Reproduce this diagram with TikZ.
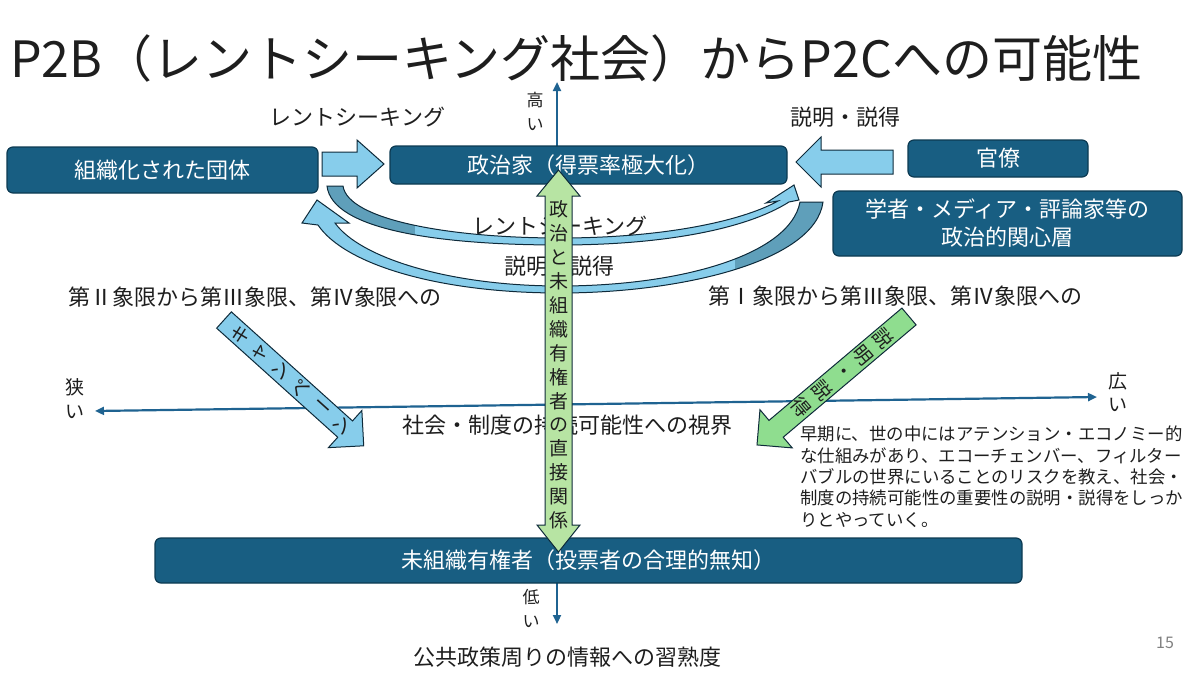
\documentclass[tikz,border=0pt]{standalone}
\usepackage{fontspec}
\setmainfont{Noto Sans CJK JP}
\usetikzlibrary{arrows.meta,calc}

\definecolor{boxblue}{HTML}{185E82}
\definecolor{boxline}{HTML}{0C3A52}
\definecolor{axisblue}{HTML}{1F6391}
\definecolor{lblue}{HTML}{87CDEB}
\definecolor{dkblue}{HTML}{5F9FBA}
\definecolor{lgreen}{HTML}{B7E4A3}
\definecolor{mgreen}{HTML}{8FDD8F}
\definecolor{edgecol}{HTML}{0E2A3A}
\definecolor{txt}{HTML}{1E1E1E}

% curved ribbons
\def\curvea{(327,186) -- (343,186) .. controls (348,220) and (450,238) .. (560,238)
  .. controls (660,238) and (740,222) .. (778,201) -- (766,203) -- (794,185) -- (799,200)
  -- (789,202) .. controls (745,230) and (660,245) .. (560,245)
  .. controls (440,245) and (332,230) .. (327,186) -- cycle}
\def\curveb{(800,202) -- (823,202) .. controls (815,262) and (680,293) .. (560,293)
  .. controls (440,293) and (345,265) .. (318,225) -- (302,223) -- (317,200) -- (349,223)
  -- (335,223) .. controls (360,258) and (450,286) .. (560,286)
  .. controls (680,286) and (790,255) .. (800,202) -- cycle}

\begin{document}
\begin{tikzpicture}[x=1pt,y=-1pt,
  box/.style={draw=boxline,fill=boxblue,rounded corners=6pt,line width=1.2pt,
    text=white,font=\fontsize{22}{28}\selectfont,inner sep=0pt,align=center},
  lbl/.style={text=txt,font=\fontsize{22}{26}\selectfont,inner sep=0pt},
  small/.style={text=txt,font=\fontsize{18}{23}\selectfont,inner sep=0pt,align=center},
  axis/.style={draw=axisblue,line width=2.2pt,{Triangle[length=9pt,width=8pt]}-{Triangle[length=9pt,width=8pt]}},
  edge/.style={draw=edgecol,line width=1pt,line join=miter},
  chr/.style={text=txt,font=\fontsize{19}{23}\selectfont,inner sep=0pt}]
\useasboundingbox (0,0) rectangle (1200,675);

% title
\node[anchor=west,text=txt,font=\fontsize{50}{56}\selectfont,inner sep=0pt] (title) at (10,58)
  {P2B（レントシーキング社会）からP2Cへの可能性};

% axes
\coordinate (vtop) at (557,82);
\coordinate (vbot) at (557,624);
\coordinate (hleft) at (95,411);
\coordinate (hright) at (1097,397);
\draw[axis] (vbot) -- (vtop);
\draw[axis] (hleft) -- (hright);
\node[small,font=\fontsize{17}{24}\selectfont] (high) at (535,111) {高\\い};
\node[small,font=\fontsize{17}{24}\selectfont] (low) at (531,608) {低\\い};
\node[small,font=\fontsize{19}{24}\selectfont] (narrow) at (75,399) {狭\\い};
\node[small,font=\fontsize{19}{23}\selectfont] (wide) at (1118,392) {広\\い};

% boxes
\node[box,minimum width=311pt,minimum height=46pt] (grp) at (162.5,170) {組織化された団体};
\node[box,minimum width=397pt,minimum height=38pt] (pol) at (588.5,165) {政治家（得票率極大化）};
\node[box,minimum width=180pt,minimum height=37pt] (bur) at (998,158.5) {官僚};
\node[box,minimum width=349pt,minimum height=65pt] (aca) at (1007.5,223.5)
  {学者・メディア・評論家等の\\政治的関心層};
\node[box,minimum width=867pt,minimum height=45pt] (voter) at (588.5,560.5)
  {未組織有権者（投票者の合理的無知）};

% curved arrows
\fill[lblue] \curvea;
\begin{scope}
  \clip \curvea;
  \fill[dkblue] (300,170) rectangle (415,260);
\end{scope}
\draw[edge] \curvea;
\fill[lblue] \curveb;
\begin{scope}
  \clip \curveb;
  \fill[dkblue] (735,190) rectangle (830,300);
\end{scope}
\draw[edge] \curveb;

% straight block arrows
\draw[edge,fill=lblue] (322,152) -- (357,152) -- (357,140) -- (384,164) -- (357,188)
  -- (357,176) -- (322,176) -- cycle;
\draw[edge,fill=lblue] (893,150) -- (821,150) -- (821,137) -- (796,162) -- (821,187)
  -- (821,174) -- (893,174) -- cycle;

% labels
\node[lbl] (rs1) at (357.5,117) {レントシーキング};
\node[lbl] (ex1) at (845,117) {説明・説得};
\node[lbl] (rs2) at (560,226) {レントシーキング};
\node[lbl] (ex2) at (559,266) {説明・説得};
\node[lbl] (q2) at (255,297) {第Ⅱ象限から第Ⅲ象限、第Ⅳ象限への};
\node[lbl] (q1) at (895,296) {第Ⅰ象限から第Ⅲ象限、第Ⅳ象限への};
\node[lbl] (view) at (567,425) {社会・制度の持続可能性への視界};
\node[lbl] (skill) at (567,657) {公共政策周りの情報への習熟度};
\node[anchor=north west,text=txt,font=\fontsize{17.4}{21.3}\selectfont,inner sep=0pt,align=left]
  (note) at (800,426)
  {早期に、世の中にはアテンション・エコノミー的\\
   な仕組みがあり、エコーチェンバー、フィルター\\
   バブルの世界にいることのリスクを教え、社会・\\
   制度の持続可能性の重要性の説明・説得をしっか\\
   りとやっていく。};
\node[text=gray,font=\fontsize{16}{18}\selectfont,inner sep=0pt] (page) at (1165,643) {15};

% direct relation (vertical double arrow)
\draw[edge,fill=lgreen] (558.5,170) -- (580,196) -- (572,196) -- (572,525) -- (580,525)
  -- (558.5,552) -- (537,525) -- (545,525) -- (545,196) -- (537,196) -- cycle;
\node[chr,align=center,font=\fontsize{19}{23.9}\selectfont] (direct) at (558.5,365)
  {政\\治\\と\\未\\組\\織\\有\\権\\者\\の\\直\\接\\関\\係};

% campaign arrow
\begin{scope}[shift={(224,320)},rotate=-42]
  \draw[edge,fill=lblue] (0,-11) -- (163,-11) -- (163,-25) -- (188,0) -- (163,25)
    -- (163,11) -- (0,11) -- cycle;
  \foreach \c/\r/\p in {キ/48/22,ャ/48/49,ン/48/76,ペ/48/103,ー/-42/131,ン/48/158}
    \node[chr,rotate=\r] at (\p,0) {\c};
\end{scope}

% explanation arrow
\begin{scope}[shift={(909,316.5)},rotate=-139.8]
  \draw[edge,fill=mgreen] (0,-11) -- (174,-11) -- (174,-25) -- (199,0) -- (174,25)
    -- (174,11) -- (0,11) -- cycle;
  \foreach \c/\p in {説/33.5,明/60.3,・/87,説/114,得/140.7}
    \node[chr,rotate=-50] at (\p,0) {\c};
\end{scope}
\end{tikzpicture}
\end{document}
